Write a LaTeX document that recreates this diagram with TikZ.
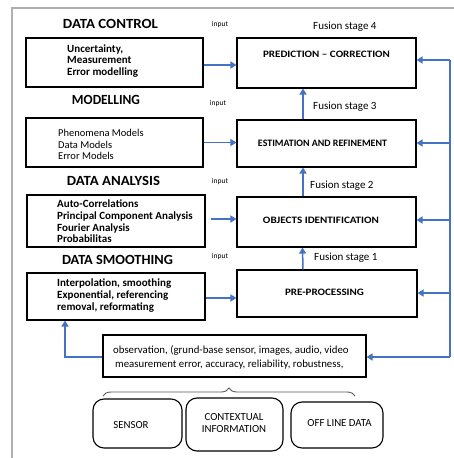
\documentclass[tikz,border=0pt]{standalone}
\usepackage{fontspec}
\usepackage{graphicx}
\setmainfont{Carlito}
\usetikzlibrary{arrows.meta,decorations.pathreplacing,calc}
\definecolor{arrblue}{RGB}{68,114,196}
\definecolor{framegray}{RGB}{175,175,175}
\newcommand{\fitw}[2]{\resizebox{#1}{\height}{#2}}
\begin{document}
\begin{tikzpicture}[x=1pt,y=-1pt,
  box/.style={draw=black,line width=1.1pt,inner sep=0pt,fill=white},
  rbox/.style={box,rounded corners=11pt},
  arr/.style={draw=arrblue,line width=1.5pt,-{Triangle[length=6pt,width=7pt]}},
  title/.style={inner sep=0pt,font=\fontsize{14}{16}\selectfont\bfseries},
  ltxt/.style={anchor=west,align=left,inner sep=0pt,font=\fontsize{11}{11.6}\selectfont\bfseries},
  ltxtr/.style={anchor=west,align=left,inner sep=0pt,font=\fontsize{10.5}{11.6}\selectfont},
  rtxt/.style={inner sep=0pt,font=\fontsize{9.8}{12}\selectfont\bfseries},
  inp/.style={inner sep=0pt,font=\fontsize{7.5}{9}\selectfont},
  fus/.style={anchor=west,inner sep=0pt,font=\fontsize{11}{12}\selectfont},
  otxt/.style={anchor=west,align=left,inner sep=0pt,font=\fontsize{10.8}{14}\selectfont},
  btxt/.style={align=center,inner sep=0pt,font=\fontsize{10.8}{12}\selectfont}
]
\useasboundingbox (0,0) rectangle (454,458);
\fill[white] (0,0) rectangle (454,458);
% frame
\draw[framegray,line width=1.2pt] (12,458) -- (12,8) -- (454,8);

% left boxes
\node[box,minimum width=177pt,minimum height=49pt] (L1) at (114.5,62.5) {};
\node[box,minimum width=177pt,minimum height=49pt] (L2) at (114.5,142.5) {};
\node[box,minimum width=178pt,minimum height=52pt] (L3) at (116,221) {};
\node[box,minimum width=178pt,minimum height=47pt] (L4) at (116,296.5) {};

\node[title] (t1) at (110.5,24) {\fitw{95pt}{DATA CONTROL}};
\node[title] (t2) at (106,100) {\fitw{68pt}{MODELLING}};
\node[title] (t3) at (113.5,181) {\fitw{93pt}{DATA ANALYSIS}};
\node[title] (t4) at (117.5,260) {\fitw{111pt}{DATA SMOOTHING}};

\node[ltxt] (x1) at (67,61) {Uncertainty,\\Measurement\\Error modelling};
\node[ltxtr] (x2) at (58,144.5) {Phenomena Models\\Data Models\\Error Models};
\node[ltxt] (x3) at (57,221.5) {Auto-Correlations\\Principal Component Analysis\\Fourier Analysis\\Probabilitas};
\node[ltxt] (x4) at (57,295.5) {Interpolation, smoothing\\Exponential, referencing\\removal, reformating};

% input labels
\node[inp] (i1) at (220,25) {input};
\node[inp] (i2) at (218,104) {input};
\node[inp] (i3) at (220,182) {input};
\node[inp] (i4) at (220,257) {input};

% right boxes
\node[box,minimum width=179pt,minimum height=50pt] (P) at (326.5,63) {};
\node[box,minimum width=179pt,minimum height=47pt] (E) at (326.5,143.5) {};
\node[box,minimum width=179pt,minimum height=50pt] (O) at (326.5,222) {};
\node[box,minimum width=180pt,minimum height=47pt] (R) at (327,293.5) {};

\node[rtxt] (pt) at (326.5,54) {\fitw{127pt}{PREDICTION -- CORRECTION}};
\node[rtxt] (et) at (322.5,143) {\fitw{129pt}{ESTIMATION AND REFINEMENT}};
\node[rtxt] (ot) at (321,220) {\fitw{116pt}{OBJECTS IDENTIFICATION}};
\node[rtxt] (rt) at (324.5,292) {\fitw{79pt}{PRE-PROCESSING}};

\node[fus] (f4) at (313,27) {Fusion stage 4};
\node[fus] (f3) at (313,107) {Fusion stage 3};
\node[fus] (f2) at (310,186) {Fusion stage 2};
\node[fus] (f1) at (314,258) {Fusion stage 1};

% observation box
\node[box,minimum width=263pt,minimum height=42pt] (Ob) at (234.5,356) {};
\node[otxt] (obt) at (113,357) {observation, (grund-base sensor, images, audio, video\\\hspace{2pt}measurement error, accuracy, reliability, robustness,};

% source boxes
\node[rbox,minimum width=89pt,minimum height=49pt] (S) at (137.5,423.5) {};
\node[btxt] (st) at (131,425) {SENSOR};
\node[rbox,minimum width=97pt,minimum height=53pt] (C) at (234.5,424.5) {};
\node[btxt] (ct) at (234,423.5) {CONTEXTUAL\\INFORMATION};
\node[rbox,minimum width=92pt,minimum height=46pt] (F) at (337,425) {};
\node[btxt] (ft) at (339.5,423.5) {OFF LINE DATA};

% brace
\draw[decorate,decoration={brace,amplitude=8pt},line width=0.9pt,black!65] (103,396) -- (355,396);

% left-to-right arrows
\draw[arr] ([yshift=-2.5pt]L1.east) -- ([yshift=-2.5pt]L1.east -| P.west);
\draw[arr] (L2.east) -- (L2.east -| E.west);
\draw[arr] ([xshift=5pt,yshift=2pt]L3.east) -- ([yshift=2pt]L3.east -| O.west);
\draw[arr] ([yshift=-1.5pt]L4.east) -- ([yshift=-1.5pt]L4.east -| R.west);

% fusion arrows
\draw[arr] ([xshift=-23.5pt]E.north) -- ([xshift=-23.5pt]P.south);
\draw[arr] ([xshift=-23.5pt]O.north) -- ([xshift=-23.5pt]E.south);
\draw[arr] ([xshift=-24pt]R.north) -- ([xshift=-24pt]O.south);

% right feedback bus
\coordinate (bt) at (450,60);
\coordinate (bb) at (450,357);
\draw[draw=arrblue,line width=1.5pt] (bt) -- (bb);
\draw[arr] (bt) -- (bt -| P.east);
\draw[arr] (450,143) -- (E.east |- 0,143);
\draw[arr] (450,220) -- (O.east |- 0,220);
\draw[arr] (450,293) -- (R.east |- 0,293);
\draw[arr] (bb) -- (bb -| Ob.east);

% left feedback
\coordinate (lf) at (65,357);
\draw[arr] (Ob.west |- lf) -- (lf) -- (lf |- L4.south);
\end{tikzpicture}
\end{document}
